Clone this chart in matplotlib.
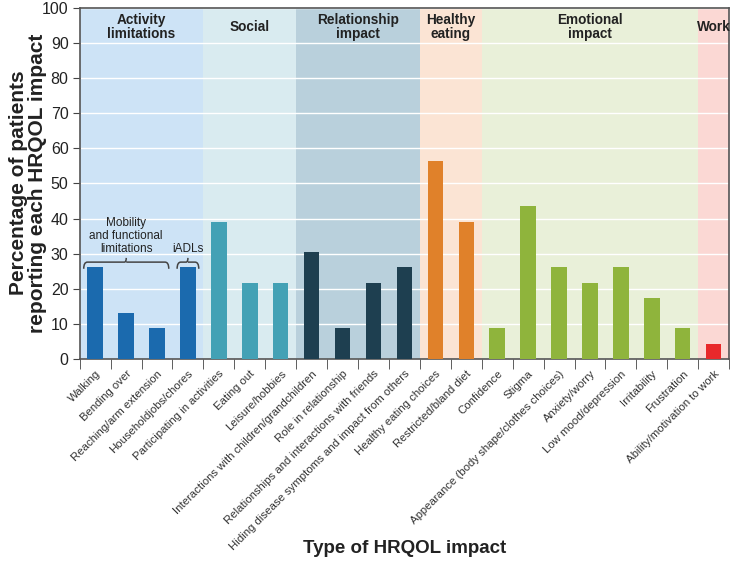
import numpy as np
import matplotlib
matplotlib.use("Agg")
import matplotlib.pyplot as plt
from matplotlib.path import Path
from matplotlib.patches import PathPatch

plt.rcParams["font.family"] = ["Liberation Sans", "DejaVu Sans"]

categories = [
    "Walking", "Bending over", "Reaching/arm extension", "Householdjobs/chores",
    "Participating in activities", "Eating out", "Leisure/hobbies",
    "Interactions with children/grandchildren", "Role in relationship",
    "Relationships and interactions with friends",
    "Hiding disease symptoms and impact from others",
    "Healthy eating choices", "Restricted/bland diet",
    "Confidence", "Stigma", "Appearance (body shape/clothes choices)",
    "Anxiety/worry", "Low mood/depression", "Irritability", "Frustration",
    "Ability/motivation to work",
]
values = [26.1, 13.0, 8.7, 26.1,
          39.1, 21.7, 21.7,
          30.4, 8.7, 21.7, 26.1,
          56.5, 39.1,
          8.7, 43.5, 26.1, 21.7, 26.1, 17.4, 8.7,
          4.3]
groups = ["Activity\nlimitations", "Social", "Relationship\nimpact",
          "Healthy\neating", "Emotional\nimpact", "Work"]
group_sizes = [4, 3, 4, 2, 7, 1]
bg_colors = ["#cde3f6", "#d9ebf0", "#b9d0dc", "#fbe4d4", "#e9f0d9", "#fbd8d4"]
bar_colors = ["#1b6aae", "#43a1b5", "#1e3f50", "#e0812a", "#8fb43c", "#e8292b"]

fig = plt.figure(figsize=(7.38, 5.61), dpi=100)
ax = fig.add_axes([0.108, 0.36, 0.88, 0.626])

x = np.arange(len(categories))
colors = []
start = 0
for g, n, bg, bc in zip(groups, group_sizes, bg_colors, bar_colors):
    ax.axvspan(start - 0.5, start + n - 0.5, color=bg, zorder=0, lw=0)
    ax.text(start + (n - 1) / 2, 94.6, g, ha="center", va="center",
            fontsize=9.8, fontweight="bold", color="#222222", linespacing=0.95)
    colors += [bc] * n
    start += n

ax.bar(x, values, width=0.5, color=colors, zorder=3)

ax.set_ylim(0, 100)
ax.set_xlim(-0.5, len(categories) - 0.5)
ax.set_yticks(range(0, 101, 10))
ax.yaxis.grid(True, color="white", lw=1, zorder=1)
ax.set_axisbelow(True)

ax.set_xticks(x)
ax.set_xticklabels(categories, rotation=45, ha="right", rotation_mode="anchor",
                   fontsize=8.2, color="#333333")
ax.tick_params(axis="x", which="major", length=0, pad=7)
ax.set_xticks(np.arange(-0.5, len(categories), 1), minor=True)
ax.tick_params(axis="x", which="minor", length=7, color="#444444", direction="out")
ax.tick_params(axis="y", labelsize=11.5, length=5, pad=3, color="#444444",
               labelcolor="#222222")

for s in ax.spines.values():
    s.set_color("#555555")
    s.set_linewidth(1.2)


# curly-ish braces above the activity bars
def brace(x0, x1, y, h=1.9, r=0.12):
    xm = (x0 + x1) / 2
    verts = [(x0, y - h), (x0, y), (x0 + r, y),
             (xm - r / 2, y), (xm, y), (xm, y + 1.2),
             (xm, y), (xm + r / 2, y),
             (x1 - r, y), (x1, y), (x1, y - h)]
    codes = [Path.MOVETO, Path.CURVE3, Path.CURVE3,
             Path.LINETO, Path.CURVE3, Path.LINETO,
             Path.MOVETO, Path.LINETO,
             Path.LINETO, Path.CURVE3, Path.CURVE3]
    ax.add_patch(PathPatch(Path(verts, codes), fill=False, edgecolor="#444444",
                           lw=1.1, zorder=4))


brace(-0.37, 2.38, 27.6)
ax.text(1, 29.6, "Mobility\nand functional\nlimitations", ha="center", va="bottom",
        fontsize=8.5, color="#222222", linespacing=1.1)
brace(2.65, 3.35, 27.6)
ax.text(3, 29.6, "iADLs", ha="center", va="bottom", fontsize=8.5, color="#222222")

fig.text(0.038, 0.674, "Percentage of patients\nreporting each HRQOL impact",
         rotation=90, ha="center", va="center", fontsize=15, fontweight="bold",
         color="#222222", linespacing=1.0)
fig.text(0.548, 0.023, "Type of HRQOL impact", ha="center", va="center",
         fontsize=13.5, fontweight="bold", color="#222222")

plt.savefig("out.png", dpi=100)
